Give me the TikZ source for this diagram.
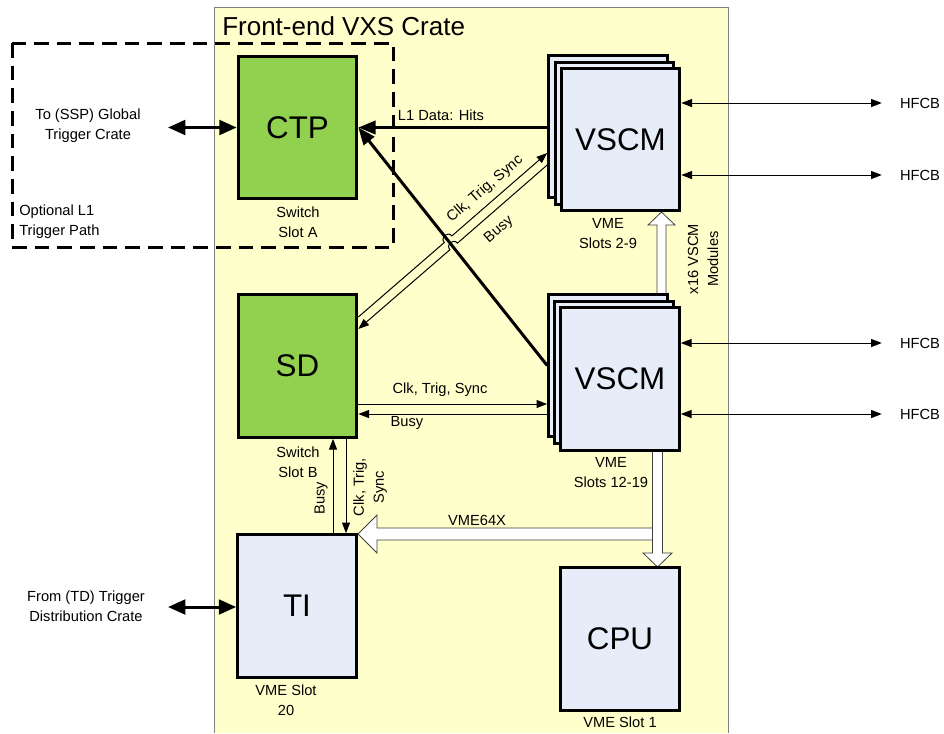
\documentclass[tikz,border=0pt]{standalone}
\usepackage{fontspec}
\setmainfont{Liberation Sans}
\usetikzlibrary{arrows.meta,calc}
\definecolor{crate}{HTML}{FFFFCC}
\definecolor{swgreen}{HTML}{92D050}
\definecolor{modblue}{HTML}{E6ECF8}
\definecolor{crateedge}{HTML}{808080}
\begin{document}
\begin{tikzpicture}[x=0.75pt,y=-0.75pt,
 font=\fontsize{11}{15}\selectfont,
 modbox/.style={draw=black, line width=2.25pt, minimum width=89pt, minimum height=107pt, inner sep=0pt, font=\fontsize{23.5}{28}\selectfont},
 greenbox/.style={modbox, fill=swgreen},
 bluebox/.style={modbox, fill=modblue},
 lbl/.style={align=center, inner sep=0pt},
 thickarr/.style={line width=2.25pt, -{Triangle[length=13pt,width=10pt]}},
 thickdbl/.style={line width=2.25pt, {Triangle[length=13pt,width=11pt]}-{Triangle[length=13pt,width=11pt]}},
 thinarr/.style={line width=0.75pt, -{Triangle[length=8pt,width=6pt]}},
 thindbl/.style={line width=0.75pt, {Triangle[length=8pt,width=6pt]}-{Triangle[length=8pt,width=6pt]}},
 fatarrow/.style={draw=black!75, fill=white, line width=0.6pt, line join=miter},
]
\useasboundingbox (0,0) rectangle (944,733);
% crate
\fill[crate] (214,7) rectangle (728,733);
\draw[crateedge, line width=0.75pt] (214,733) -- (214,7) -- (728,7) -- (728,733);
\node[anchor=west, inner sep=0pt, font=\fontsize{19.5}{24}\selectfont] (title) at (222,26) {Front-end VXS Crate};

% fat arrows (drawn first so boxes cover their ends)
\draw[fatarrow] (657,300) -- (657,225) -- (648,225) -- (661.5,212) -- (675,225) -- (666,225) -- (666,300) -- cycle;
\draw[fatarrow] (658,528) -- (377,528) -- (377,515) -- (358,534) -- (377,553) -- (377,540) -- (658,540) -- cycle;
\draw[fatarrow] (652.5,440) -- (652.5,553) -- (643,553) -- (657.5,567) -- (672,553) -- (662.5,553) -- (662.5,440) -- cycle;

% modules
\node[greenbox] (ctp) at (297.5,127.5) {CTP};
\node[greenbox] (sd) at (297.5,366) {SD};
\node[bluebox] (ti) at (297,606) {TI};
\node[bluebox] (cpu) at (620,639) {CPU};
\node[bluebox] (vsa3) at (608,126.5) {};
\node[bluebox] (vsa2) at (614.5,133.5) {};
\node[bluebox] (vsa1) at (620.5,139.5) {VSCM};
\node[bluebox] (vsb3) at (608,365.5) {};
\node[bluebox] (vsb2) at (614,372.5) {};
\node[bluebox] (vsb1) at (620,379) {VSCM};

% dashed optional path
\draw[line width=2.25pt, dash pattern=on 11pt off 6pt] (12,43) rectangle (393,247);

% labels
\node[lbl] (swa) at (298,222) {Switch\\Slot A};
\node[lbl] (swb) at (298,462) {Switch\\Slot B};
\node[lbl] (vmea) at (608,234) {VME\\Slots 2-9};
\node[lbl] (vmeb) at (611,473) {VME\\Slots 12-19};
\node[lbl] (vmeti) at (286,700) {VME Slot\\20};
\node[lbl] (vmecpu) at (620,722) {VME Slot 1};
\node[lbl] (ssp) at (88,126) {To (SSP) Global\\Trigger Crate};
\node[lbl] (td) at (86,606) {From (TD) Trigger\\Distribution Crate};
\node[lbl, align=left, anchor=west] (opt) at (19,222) {Optional L1\\Trigger Path};
\node[lbl] (l1lbl) at (441,115) {L1 Data: Hits};
\node[lbl, rotate=40.8] (cts1) at (485,189) {Clk, Trig, Sync};
\node[lbl, rotate=40.8] (busy1) at (499,230) {Busy};
\node[lbl] (cts2) at (440,390) {Clk, Trig, Sync};
\node[lbl] (busy2) at (407,423) {Busy};
\node[lbl, rotate=90] (busy3) at (321,498) {Busy};
\node[lbl, rotate=90] (cts3) at (370,487) {Clk, Trig,\\Sync};
\node[lbl] (vme64) at (477,520) {VME64X};
\node[lbl, rotate=90] (x16) at (703,259) {x16 VSCM\\Modules};
\node[lbl] (h1) at (920,103) {HFCB};
\node[lbl] (h2) at (920,175) {HFCB};
\node[lbl] (h3) at (920,343) {HFCB};
\node[lbl] (h4) at (920,414) {HFCB};

% external thick links
\coordinate (sspend) at (168,127.5);
\coordinate (tdend) at (168,607);
\draw[thickdbl] (sspend) -- (sspend -| ctp.west);
\draw[thickdbl] (tdend) -- (tdend -| ti.west);

% L1 data
\draw[thickarr] (vsa3.west |- ctp.east) -- (ctp.east);
\draw[thickarr] (vsb3.west) -- (ctp.east);

% diagonal Clk/Trig/Sync and Busy with hops
\coordinate (u1) at ($(vsa3.west)+(0,26.5)$);
\coordinate (u2) at ($(sd.east)+(0,-49)$);
\coordinate (w1) at ($(vsa3.west)+(0,38.5)$);
\coordinate (w2) at ($(sd.east)+(0,-37)$);
\draw[thinarr] (u2) -- (444.3,242.5) .. controls (439.9,237.4) and (447.5,230.8) .. (451.9,235.9) -- (u1);
\draw[thinarr] (w1) -- (457.5,243.1) .. controls (453.1,238.0) and (445.5,244.6) .. (449.9,249.7) -- (w2);

% SD <-> lower VSCM
\draw[thinarr] ($(sd.east)+(0,38)$) -- ($(vsb3.west)+(0,38.5)$);
\draw[thinarr] ($(vsb3.west)+(0,48.5)$) -- ($(sd.east)+(0,48)$);

% SD <-> TI
\draw[thinarr] ($(ti.north)+(36,0)$) -- ($(sd.south)+(35.5,0)$);
\draw[thinarr] ($(sd.south)+(48.5,0)$) -- ($(ti.north)+(49,0)$);

% HFCB links
\draw[thindbl] (vsa1.east |- h1) -- ($(h1.west)+(-18,0)$);
\draw[thindbl] (vsa1.east |- h2) -- ($(h2.west)+(-18,0)$);
\draw[thindbl] (vsb1.east |- h3) -- ($(h3.west)+(-18,0)$);
\draw[thindbl] (vsb1.east |- h4) -- ($(h4.west)+(-18,0)$);
\end{tikzpicture}
\end{document}
